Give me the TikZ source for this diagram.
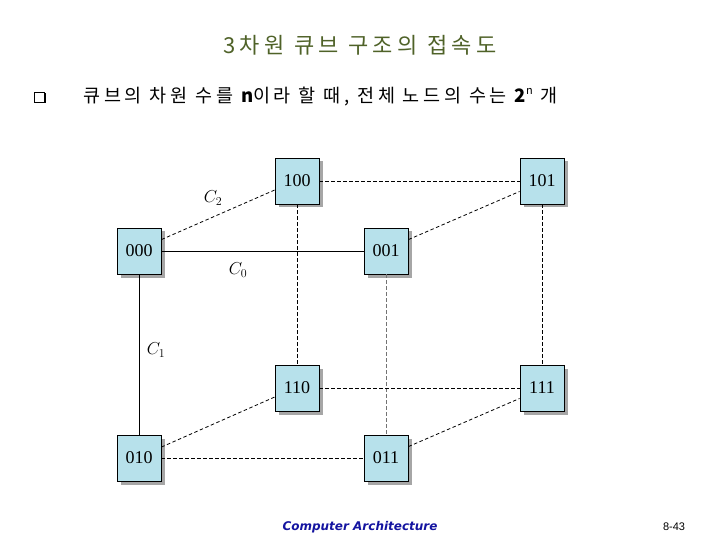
\documentclass[tikz,border=0pt]{standalone}
\usepackage{fontspec}
\newfontfamily\kor[LetterSpace=20]{Noto Sans CJK KR}
\newfontfamily\labfont{DejaVu Sans}
\newfontfamily\oldal{Liberation Sans}
\newfontfamily\szamfont{Liberation Serif}
\usetikzlibrary{positioning,shadows}
\definecolor{kek}{RGB}{183,225,235}
\definecolor{olivzold}{RGB}{79,98,40}
\definecolor{sotetkek}{RGB}{20,20,160}
\tikzset{
  doboz/.style={draw,line width=0.9pt,fill=kek,minimum width=44pt,minimum height=46pt,
    inner sep=0pt,font=\szamfont\fontsize{18}{18}\selectfont,
    drop shadow={shadow xshift=3.5pt,shadow yshift=-3.5pt,fill=black!35,opacity=1}},
  hal/.style={line width=0.9pt},
  szagg/.style={line width=0.8pt,dash pattern=on 3.5pt off 2.5pt},
  halv/.style={line width=0.6pt,black!55,dash pattern=on 3.5pt off 2.5pt},
  cimke/.style={font=\fontsize{18}{18}\selectfont},
}

\begin{document}
\begin{tikzpicture}[x=1pt,y=-1pt]
  \useasboundingbox (0,0) rectangle (720,540);
  % title and bullet line
  \node[text=olivzold,font=\kor\fontsize{22}{22}\selectfont] (cim) at (360,45) {3차원 큐브 구조의 접속도};
  \node[draw,fill=white,line width=0.8pt,minimum size=10pt,inner sep=0pt,
    drop shadow={shadow xshift=1.5pt,shadow yshift=-1.5pt,fill=black,opacity=1}] (jel) at (39,97) {};
  \node[anchor=west,font=\kor\fontsize{18.5}{18.5}\selectfont] (szoveg) at (80,97)
    {큐브의 차원 수를 {\bfseries n}이라 할 때, 전체 노드의 수는 {\bfseries 2}\raisebox{0.45em}{\fontsize{11}{11}\selectfont n} 개};
  % cube nodes
  \node[doboz] (n000) at (139,251) {000};
  \node[doboz] (n001) at (386,251) {001};
  \node[doboz] (n100) at (297,181) {100};
  \node[doboz] (n101) at (542,181) {101};
  \node[doboz] (n110) at (297,388) {110};
  \node[doboz] (n111) at (542,388) {111};
  \node[doboz] (n010) at (139,458) {010};
  \node[doboz] (n011) at (386,458) {011};
  % links
  \draw[hal] (n000) -- (n001);
  \draw[hal] (n000) -- (n010);
  \draw[szagg] (n000.27) -- (n100.202);
  \draw[szagg] (n100) -- (n101);
  \draw[szagg] (n100) -- (n110);
  \draw[szagg] (n101) -- (n111);
  \draw[szagg] (n001.27) -- (n101.205);
  \draw[halv] (n001) -- (n011);
  \draw[szagg] (n110) -- (n111);
  \draw[szagg] (n010.26) -- (n110.202);
  \draw[szagg] (n010) -- (n011);
  \draw[szagg] (n011.27) -- (n111.205);
  \node[cimke] (c2) at (213,198) {$C_2$};
  \node[cimke] (c0) at (238,270) {$C_0$};
  \node[cimke] (c1) at (156,350) {$C_1$};
  % footer
  \node[text=sotetkek,font=\labfont\bfseries\itshape\fontsize{12}{12}\selectfont] (lab) at (360,527) {Computer Architecture};
  \node[font=\oldal\fontsize{11}{11}\selectfont] (lapszam) at (674,527) {8-43};
\end{tikzpicture}
\end{document}
